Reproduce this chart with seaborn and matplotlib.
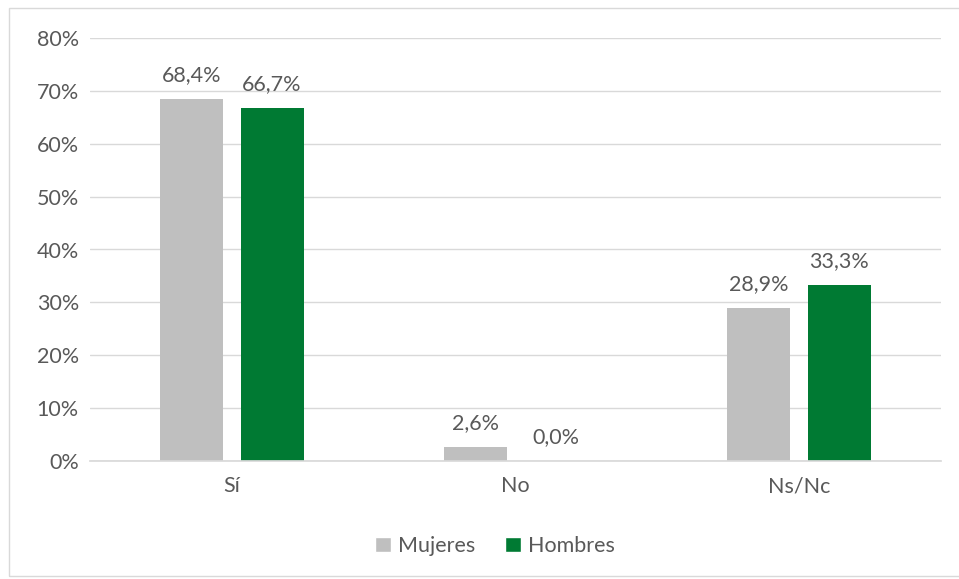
import matplotlib
matplotlib.use("Agg")
import matplotlib.pyplot as plt
import seaborn as sns
import pandas as pd
from matplotlib.patches import Rectangle, Patch
from matplotlib.ticker import FuncFormatter, MultipleLocator

categories = ["Sí", "No", "Ns/Nc"]
series = ["Mujeres", "Hombres"]
mujeres = [68.4, 2.6, 28.9]
hombres = [66.7, 0.0, 33.3]
colors = ["#BFBFBF", "#007A33"]

df = pd.DataFrame({
    "cat": categories * 2,
    "serie": [series[0]] * 3 + [series[1]] * 3,
    "val": mujeres + hombres,
})

sns.set_theme(style="white")
plt.rcParams["font.family"] = ["Lato", "DejaVu Sans"]
txt = "#595959"
fs = 15.5

fig = plt.figure(figsize=(9.59, 5.79), dpi=100)
ax = fig.add_axes([90/959, 118/579, 851/959, 423/579])

sns.barplot(data=df, x="cat", y="val", hue="serie", palette=colors,
            width=0.568, gap=0.22, ax=ax, legend=False, saturation=1,
            linewidth=0, edgecolor="none")

ax.set_ylim(0, 80)
ax.set_xlim(-0.5, 2.5)
ax.yaxis.set_major_locator(MultipleLocator(10))
ax.yaxis.set_major_formatter(FuncFormatter(lambda v, p: f"{int(v)}%"))
ax.grid(axis="y", color="#D9D9D9", linewidth=1)
ax.set_axisbelow(True)
for s in ["left", "right", "top"]:
    ax.spines[s].set_visible(False)
ax.spines["bottom"].set_color("#D9D9D9")
ax.set_xlabel("")
ax.set_ylabel("")
ax.tick_params(axis="both", length=0, labelsize=fs, colors=txt, pad=8)
ax.tick_params(axis="x", pad=11)

for cont in ax.containers:
    labels = [f"{v:.1f}".replace(".", ",") + "%" for v in cont.datavalues]
    ax.bar_label(cont, labels=labels, padding=10, fontsize=fs, color=txt)

handles = [Patch(facecolor=c, label=s) for c, s in zip(colors, series)]
fig.legend(handles=handles, loc="center", bbox_to_anchor=(495/959, 1 - 546/579),
           ncol=2, frameon=False, fontsize=fs, handlelength=0.75, handleheight=0.75,
           handletextpad=0.3, columnspacing=1.4, labelcolor=txt)

fig.patches.append(Rectangle((9/959, 3/579), 1.0, 1 - 11/579, transform=fig.transFigure,
                             fill=False, edgecolor="#D9D9D9", linewidth=1))

fig.savefig("out.png", dpi=100)
